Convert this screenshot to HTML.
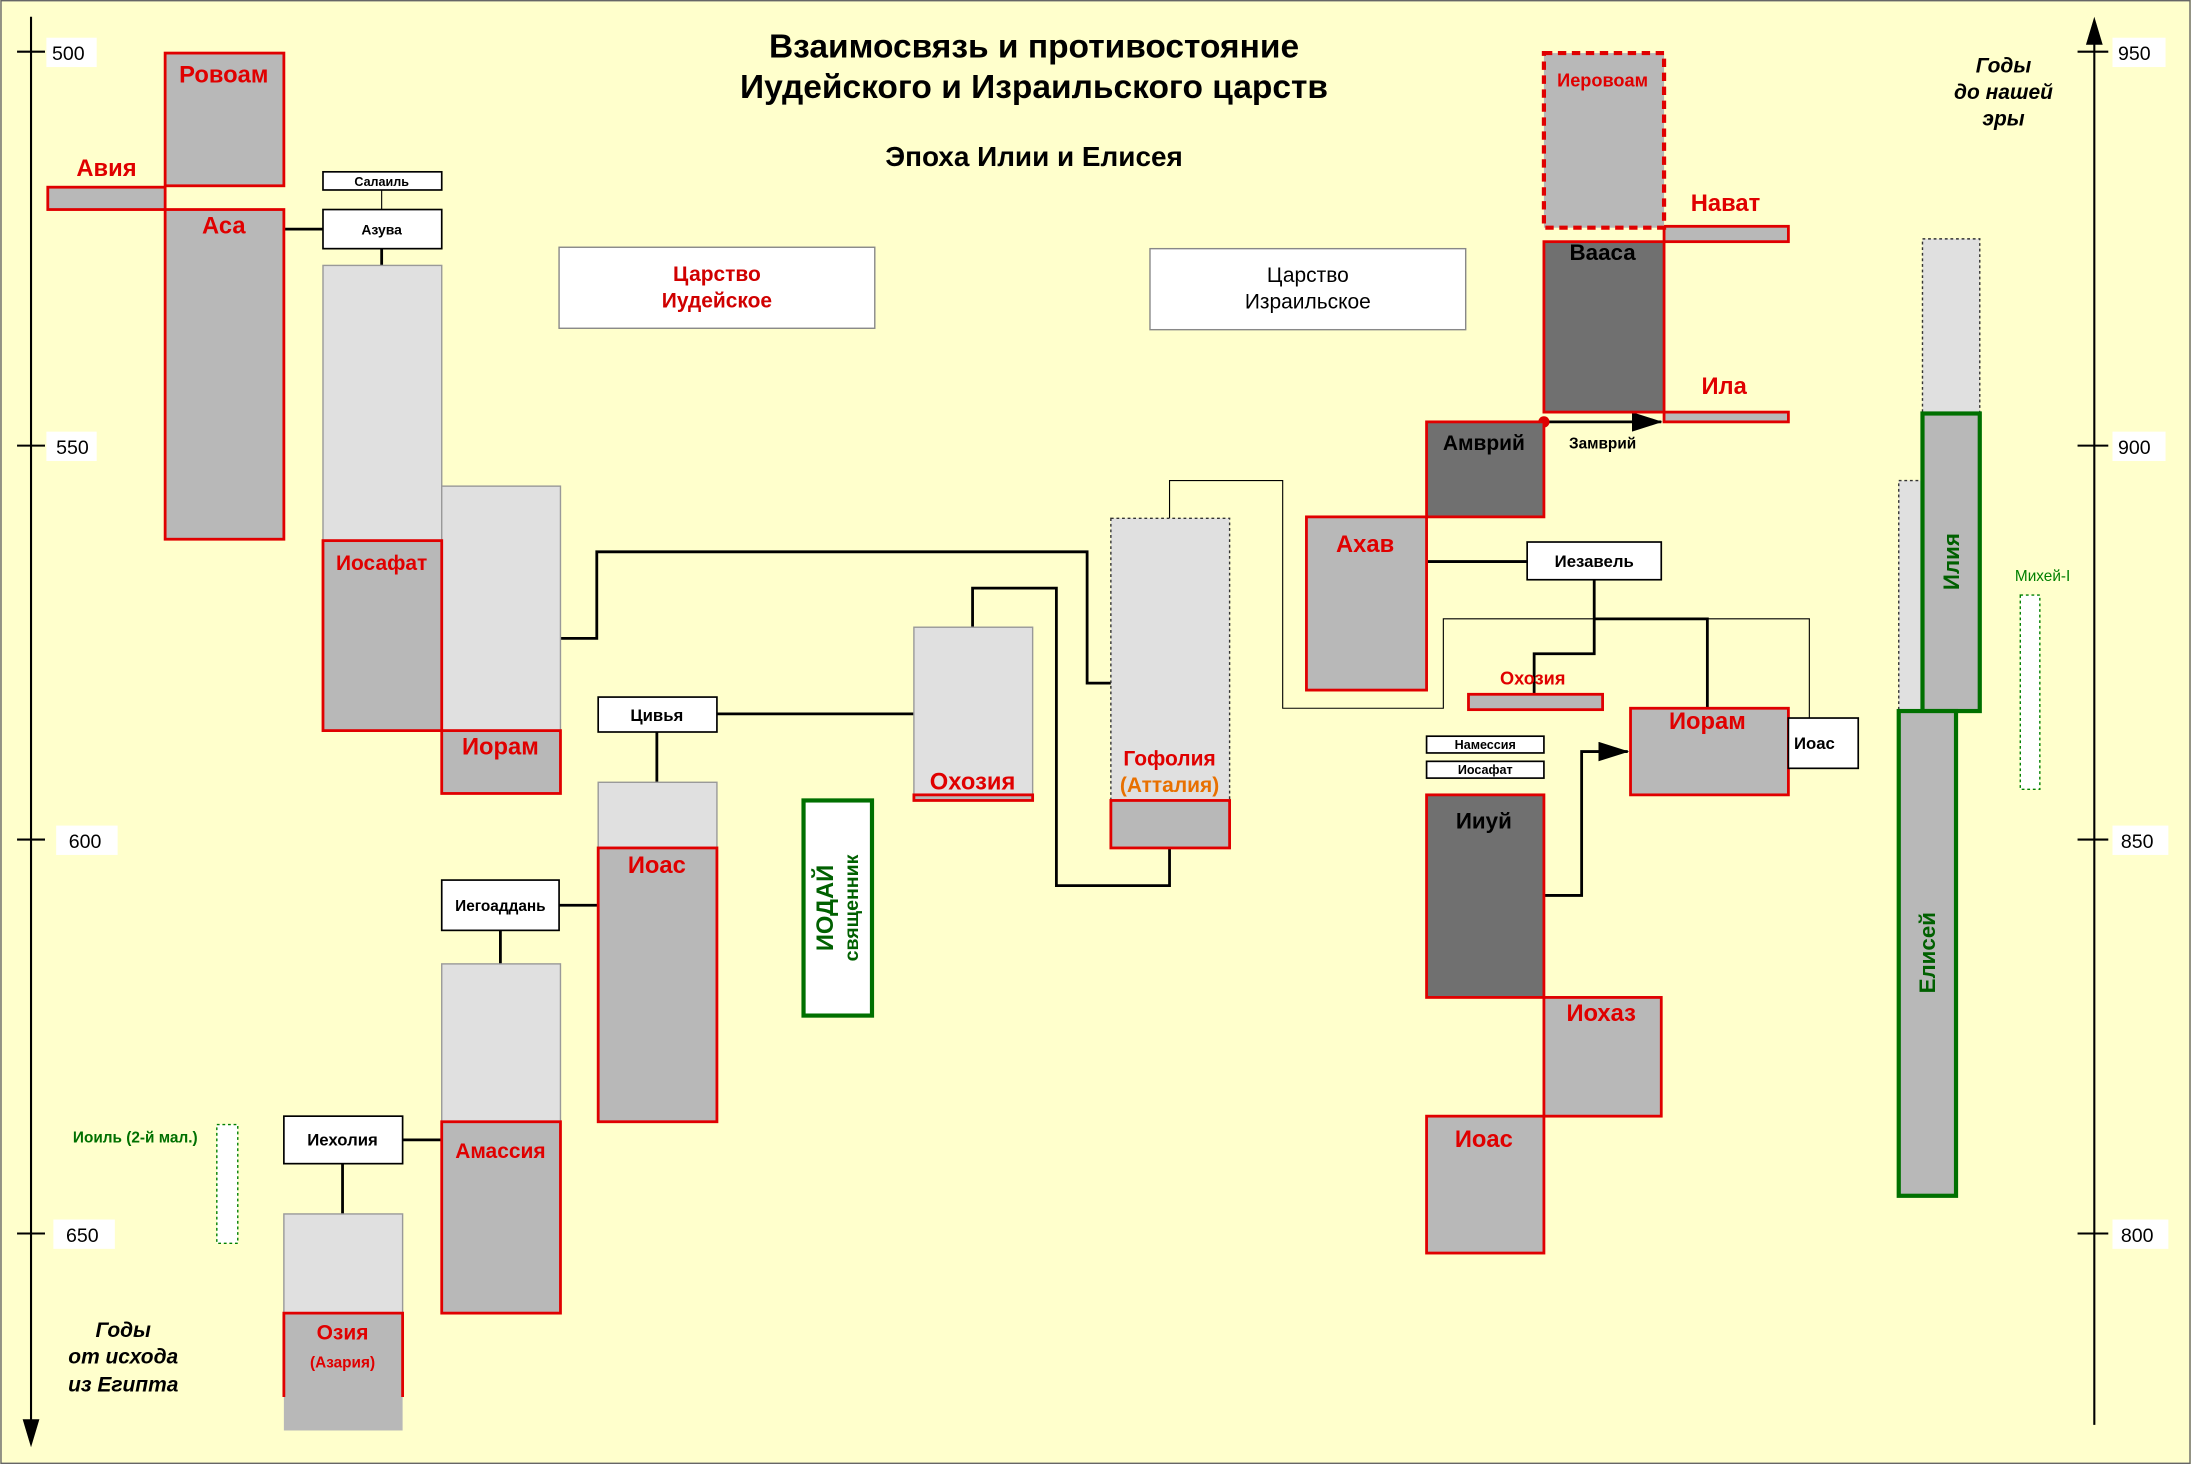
<!DOCTYPE html>
<html><head><meta charset="utf-8"><style>
html,body{margin:0;padding:0;background:#ffffcc;}
svg{display:block;}
text{font-family:"Liberation Sans",sans-serif;}
</style></head><body>
<svg width="2191" height="1464" viewBox="0 0 1568 1048" xmlns="http://www.w3.org/2000/svg">
<defs>
<marker id="ah2" markerWidth="22" markerHeight="14" refX="21" refY="7" orient="auto" markerUnits="userSpaceOnUse"><path d="M0,0 L22,7 L0,14 Z" fill="#000"/></marker>
</defs>
<rect x="0.5" y="0.5" width="1567" height="1047" fill="#ffffcc" stroke="#666"/>

<g stroke="#000" stroke-width="1.5">
<line x1="22" y1="12" x2="22" y2="1022"/>
<line x1="1499" y1="25" x2="1499" y2="1020"/>
<line x1="12" y1="37" x2="32" y2="37"/><line x1="12" y1="319" x2="32" y2="319"/><line x1="12" y1="601" x2="32" y2="601"/><line x1="12" y1="883" x2="32" y2="883"/>
<line x1="1487" y1="37" x2="1509" y2="37"/><line x1="1487" y1="319" x2="1509" y2="319"/><line x1="1487" y1="601" x2="1509" y2="601"/><line x1="1487" y1="883" x2="1509" y2="883"/>
</g>
<path d="M16,1016 L22,1036 L28,1016 Z"/>
<path d="M1493,32 L1499,12 L1505,32 Z"/>
<g fill="#fff"><rect x="33" y="27" width="36" height="21"/><rect x="33" y="309" width="36" height="21"/><rect x="40" y="591" width="44" height="21"/><rect x="38" y="873" width="44" height="21"/>
<rect x="1512" y="27" width="38" height="21"/><rect x="1512" y="309" width="38" height="21"/><rect x="1512" y="591" width="40" height="21"/><rect x="1512" y="873" width="40" height="21"/></g>
<g font-size="14" fill="#000"><text x="37" y="43">500</text><text x="40" y="325">550</text><text x="49" y="607">600</text><text x="47" y="889">650</text>
<text x="1516" y="43">950</text><text x="1516" y="325">900</text><text x="1518" y="607">850</text><text x="1518" y="889">800</text></g>

<g font-weight="bold" text-anchor="middle">
<text x="740" y="41" font-size="24">Взаимосвязь и противостояние</text>
<text x="740" y="70" font-size="24">Иудейского и Израильского царств</text>
<text x="740" y="119" font-size="20">Эпоха  Илии и Елисея</text>
</g>
<g font-weight="bold" font-style="italic" font-size="15" text-anchor="middle">
<text x="88" y="957">Годы</text><text x="88" y="976">от исхода</text><text x="88" y="996">из Египта</text>
<text x="1434" y="52">Годы</text><text x="1434" y="71">до  нашей</text><text x="1434" y="90">эры</text>
</g>

<g fill="none" stroke="#000" stroke-width="2">
<line x1="203" y1="164" x2="231" y2="164"/>
<line x1="273" y1="178" x2="273" y2="190"/>
<polyline points="401,457 427,457 427,395 778,395 778,489 795,489"/>
<line x1="470" y1="524" x2="470" y2="560"/>
<line x1="513" y1="511" x2="654" y2="511"/>
<polyline points="696,449 696,421 756,421 756,634 837,634 837,607"/>
<line x1="358" y1="666" x2="358" y2="690"/>
<line x1="400" y1="648" x2="428" y2="648"/>
<line x1="288" y1="816" x2="316" y2="816"/>
<line x1="245" y1="833" x2="245" y2="869"/>
<line x1="1021" y1="402" x2="1093" y2="402"/>
<polyline points="1141,415 1141,468 1098,468 1098,497"/>
<polyline points="1141,443 1222,443 1222,507"/>
<polyline points="1105,641 1132,641 1132,538 1165,538" marker-end="url(#ah2)"/>
<line x1="1105" y1="302" x2="1189" y2="302" marker-end="url(#ah2)"/>
</g>
<g fill="none" stroke="#000" stroke-width="0.8">
<line x1="273" y1="136" x2="273" y2="150"/>
<polyline points="837,371 837,344 918,344 918,507 1033,507 1033,443 1295,443 1295,514"/>
</g>
<circle cx="1105" cy="302" r="4" fill="#d00"/>

<rect x="400" y="177" width="226" height="58" fill="#fff" stroke="#888"/>
<text x="513" y="201" font-size="15" font-weight="bold" fill="#d00000" text-anchor="middle">Царство</text>
<text x="513" y="220" font-size="15" font-weight="bold" fill="#d00000" text-anchor="middle">Иудейское</text>
<rect x="823" y="178" width="226" height="58" fill="#fff" stroke="#888"/>
<text x="936" y="202" font-size="15" text-anchor="middle">Царство</text>
<text x="936" y="221" font-size="15" text-anchor="middle">Израильское</text>

<g fill="#e0e0e0" stroke="#999" stroke-width="1">
<rect x="231" y="190" width="85" height="197"/>
<rect x="316" y="348" width="85" height="175"/>
<rect x="428" y="560" width="85" height="47"/>
<rect x="654" y="449" width="85" height="120"/>
<rect x="316" y="690" width="85" height="113"/>
<rect x="203" y="869" width="85" height="71"/>
</g>
<g fill="#e0e0e0" stroke="#333" stroke-width="1" stroke-dasharray="2,2">
<rect x="795" y="371" width="85" height="202"/>
<rect x="1376" y="171" width="41" height="125"/>
<rect x="1359" y="344" width="17" height="165"/>
</g>

<g fill="#b8b8b8" stroke="#e00000" stroke-width="2">
<rect x="118" y="38" width="85" height="95"/>
<rect x="34" y="134" width="84" height="16"/>
<rect x="118" y="150" width="85" height="236"/>
<rect x="231" y="387" width="85" height="136"/>
<rect x="316" y="523" width="85" height="45"/>
<rect x="428" y="607" width="85" height="196"/>
<rect x="654" y="569" width="85" height="4"/>
<rect x="795" y="573" width="85" height="34"/>
<rect x="316" y="803" width="85" height="137"/>
<rect x="1191" y="162" width="89" height="11"/>
<rect x="1191" y="295" width="89" height="7"/>
<rect x="935" y="370" width="86" height="124"/>
<rect x="1051" y="497" width="96" height="11"/>
<rect x="1167" y="507" width="113" height="62"/>
<rect x="1105" y="714" width="84" height="85"/>
<rect x="1021" y="799" width="84" height="98"/>
</g>
<rect x="203" y="940" width="85" height="84" fill="#b8b8b8"/>
<path d="M203,1000 L203,940 L288,940 L288,1000" fill="none" stroke="#e00000" stroke-width="2"/>
<g fill="#707070" stroke="#e00000" stroke-width="2">
<rect x="1105" y="173" width="86" height="122"/>
<rect x="1021" y="302" width="84" height="68"/>
<rect x="1021" y="569" width="84" height="145"/>
</g>
<rect x="1105" y="38" width="86" height="125" fill="#b8b8b8" stroke="#e00000" stroke-width="3" stroke-dasharray="6,4"/>

<rect x="575" y="573" width="49" height="154" fill="#fff" stroke="#007000" stroke-width="3"/>
<rect x="1376" y="296" width="41" height="213" fill="#b8b8b8" stroke="#007000" stroke-width="3"/>
<rect x="1359" y="509" width="41" height="347" fill="#b8b8b8" stroke="#007000" stroke-width="3"/>
<rect x="155" y="805" width="15" height="85" fill="#fff" stroke="#008000" stroke-dasharray="2,2"/>
<rect x="1446" y="426" width="14" height="139" fill="#fff" stroke="#008000" stroke-dasharray="2,2"/>
<g font-weight="bold" text-anchor="middle" fill="#006000">
<text transform="translate(596,650) rotate(-90)" font-size="17">ИОДАЙ</text>
<text transform="translate(614,650) rotate(-90)" font-size="14">священник</text>
<text transform="translate(1402,402) rotate(-90)" font-size="16">Илия</text>
<text transform="translate(1385,682) rotate(-90)" font-size="16">Елисей</text>
</g>
<text x="52" y="818" font-size="11" font-weight="bold" fill="#007000">Иоиль (2-й мал.)</text>
<text x="1462" y="416" font-size="11" fill="#008000" text-anchor="middle">Михей-I</text>

<g fill="#fff" stroke="#000" stroke-width="1.2">
<rect x="231" y="123" width="85" height="13"/>
<rect x="231" y="150" width="85" height="28"/>
<rect x="428" y="499" width="85" height="25"/>
<rect x="316" y="630" width="84" height="36"/>
<rect x="203" y="799" width="85" height="34"/>
<rect x="1093" y="388" width="96" height="27"/>
<rect x="1280" y="514" width="50" height="36"/>
<rect x="1021" y="527" width="84" height="12"/>
<rect x="1021" y="545" width="84" height="12"/>
</g>
<g font-size="10" font-weight="bold" text-anchor="middle">
<text x="273" y="133" font-size="9">Салаиль</text>
<text x="273" y="168">Азува</text>
<text x="470" y="516" font-size="12">Цивья</text>
<text x="358" y="652" font-size="11">Иегоаддань</text>
<text x="245" y="820" font-size="12">Иехолия</text>
<text x="1141" y="406" font-size="12">Иезавель</text>
<text x="1284" y="536" font-size="12" text-anchor="start">Иоас</text>
<text x="1063" y="536" font-size="9">Намессия</text>
<text x="1063" y="554" font-size="9">Иосафат</text>
<text x="1147" y="321" font-size="11">Замврий</text>
</g>

<g font-weight="bold" fill="#e00000" text-anchor="middle" font-size="17">
<text x="160" y="59">Ровоам</text>
<text x="76" y="126">Авия</text>
<text x="160" y="167">Аса</text>
<text x="273" y="408" font-size="15">Иосафат</text>
<text x="358" y="540">Иорам</text>
<text x="470" y="625">Иоас</text>
<text x="696" y="565">Охозия</text>
<text x="837" y="548" font-size="15">Гофолия</text>
<text x="837" y="567" font-size="15" fill="#e87000">(Атталия)</text>
<text x="358" y="829" font-size="15">Амассия</text>
<text x="245" y="959" font-size="15">Озия</text>
<text x="245" y="979" font-size="11">(Азария)</text>
<text x="1147" y="62" font-size="13">Иеровоам</text>
<text x="1235" y="151">Нават</text>
<text x="1234" y="282">Ила</text>
<text x="977" y="395">Ахав</text>
<text x="1097" y="490" font-size="13">Охозия</text>
<text x="1222" y="522">Иорам</text>
<text x="1146" y="731">Иохаз</text>
<text x="1062" y="821">Иоас</text>
</g>
<g font-weight="bold" fill="#000" text-anchor="middle" font-size="16">
<text x="1147" y="186">Вааса</text>
<text x="1062" y="322" font-size="15">Амврий</text>
<text x="1062" y="593">Ииуй</text>
</g>
</svg>
</body></html>
